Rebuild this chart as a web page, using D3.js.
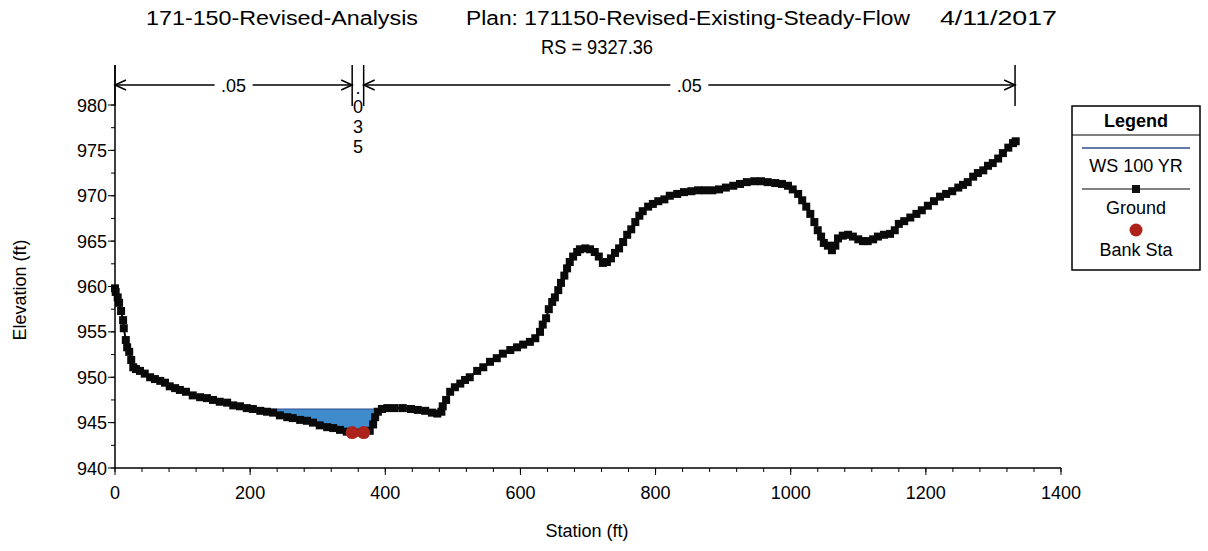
<!DOCTYPE html>
<html>
<head>
<meta charset="utf-8">
<script src="https://cdn.jsdelivr.net/npm/d3@7"></script>
<style>
  body { margin: 0; background: #fff; }
  svg { font-family: "Liberation Sans", Arial, sans-serif; }
</style>
</head>
<body>
<svg id="chart" width="1208" height="551"></svg>
<script>
// ground profile (station ft, elevation ft)
const groundSta = [0, 1, 4, 6, 9, 12, 13, 16, 18, 21, 24, 27, 31, 37, 44, 52, 59, 67, 74, 81, 89, 96, 105, 115, 126, 136, 145, 155, 166, 175, 185, 195, 204, 215, 225, 234, 244, 255, 263, 274, 284, 293, 303, 314, 323, 333, 343, 352, 363, 370, 377, 382, 385, 389, 395, 403, 414, 426, 438, 448, 459, 469, 477, 483, 485, 490, 496, 503, 511, 518, 525, 536, 545, 555, 565, 574, 585, 595, 604, 614, 622, 629, 633, 638, 642, 647, 651, 656, 660, 665, 669, 673, 678, 684, 688, 696, 703, 710, 716, 722, 728, 734, 740, 746, 752, 758, 764, 770, 776, 781, 789, 796, 804, 813, 821, 832, 842, 853, 863, 873, 884, 894, 904, 915, 925, 935, 946, 956, 966, 977, 987, 996, 1003, 1011, 1017, 1023, 1029, 1035, 1040, 1045, 1049, 1055, 1061, 1066, 1070, 1077, 1085, 1092, 1100, 1107, 1114, 1122, 1129, 1138, 1147, 1154, 1160, 1168, 1177, 1186, 1194, 1203, 1212, 1221, 1230, 1239, 1248, 1255, 1262, 1270, 1277, 1285, 1292, 1299, 1307, 1314, 1322, 1329, 1333];
const groundElev = [959.8, 959.4, 958.8, 958.2, 957.3, 956.3, 955.4, 954.1, 953.3, 952.8, 951.9, 951.1, 950.9, 950.7, 950.4, 950.0, 949.8, 949.6, 949.4, 949.0, 948.8, 948.6, 948.4, 948.0, 947.8, 947.7, 947.5, 947.3, 947.2, 946.9, 946.8, 946.6, 946.5, 946.3, 946.2, 946.1, 945.8, 945.6, 945.5, 945.3, 945.2, 945.0, 944.7, 944.5, 944.4, 944.2, 944.0, 943.9, 943.9, 943.9, 944.1, 944.8, 945.6, 946.2, 946.5, 946.6, 946.6, 946.6, 946.5, 946.4, 946.3, 946.1, 946.0, 946.2, 946.8, 947.5, 948.4, 948.9, 949.3, 949.7, 950.0, 950.7, 951.1, 951.7, 952.1, 952.6, 953.0, 953.3, 953.6, 953.9, 954.3, 955.0, 955.8, 956.5, 957.5, 958.3, 958.8, 959.6, 960.4, 961.2, 962.0, 962.7, 963.3, 963.8, 964.1, 964.2, 964.1, 963.8, 963.3, 962.6, 962.7, 963.1, 963.7, 964.2, 964.9, 965.7, 966.3, 967.1, 967.8, 968.3, 968.8, 969.1, 969.4, 969.6, 970.0, 970.2, 970.4, 970.5, 970.6, 970.6, 970.6, 970.7, 970.9, 971.1, 971.3, 971.5, 971.6, 971.6, 971.5, 971.4, 971.3, 971.1, 970.7, 970.2, 969.5, 968.8, 968.0, 967.1, 966.2, 965.5, 964.8, 964.5, 964.0, 964.5, 965.3, 965.6, 965.7, 965.5, 965.2, 965.0, 965.0, 965.2, 965.5, 965.7, 965.8, 966.2, 966.9, 967.2, 967.6, 968.0, 968.4, 968.9, 969.4, 969.9, 970.2, 970.5, 970.9, 971.2, 971.5, 972.1, 972.5, 972.8, 973.3, 973.6, 974.1, 974.7, 975.3, 975.8, 976.0];

const bankSta = [351, 368];
const bankElev = [943.9, 943.9];

const wsElev = 946.5; // WS 100 YR

// Manning's n regions across the top
const nFrom = [0, 351, 368];
const nTo = [351, 368, 1332];
const nLabel = [".05", ".035", ".05"];

const xTicks = [0, 200, 400, 600, 800, 1000, 1200, 1400];
const yTicks = [940, 945, 950, 955, 960, 965, 970, 975, 980];

const titleLeft = "171-150-Revised-Analysis";
const titlePlan = "Plan: 171150-Revised-Existing-Steady-Flow";
const titleDate = "4/11/2017";
const subTitle = "RS = 9327.36";

const svg = d3.select('#chart');

const x = d3.scaleLinear().domain([0, 1400]).range([115, 1061]);
const y = d3.scaleLinear().domain([940, 980]).range([468, 105]);

const ground = groundSta.map((s, i) => ({ s, e: groundElev[i] }));

// titles, narrow font in the original so squeeze to its widths
function title(txt, x0, x1, yy) {
  svg.append('text').attr('x', x0).attr('y', yy)
    .attr('font-size', 20).attr('textLength', x1 - x0)
    .attr('lengthAdjust', 'spacingAndGlyphs').text(txt);
}
title(titleLeft, 146, 418, 25);
title(titlePlan, 466, 910, 25);
title(titleDate, 940, 1057, 25);
title(subTitle, 541, 653, 54);

// water surface fill between crossings around the channel low point
let lowIdx = d3.minIndex(ground, d => d.e);
let li = lowIdx, ri = lowIdx;
while (li > 0 && ground[li - 1].e < wsElev) li--;
while (ri < ground.length - 1 && ground[ri + 1].e < wsElev) ri++;
function cross(a, b) {
  const t = (wsElev - a.e) / (b.e - a.e);
  return { s: a.s + t * (b.s - a.s), e: wsElev };
}
const wetPts = [cross(ground[li - 1], ground[li])]
  .concat(ground.slice(li, ri + 1))
  .concat([cross(ground[ri], ground[ri + 1])]);

svg.append('path')
  .datum(wetPts)
  .attr('fill', '#3f8bcb')
  .attr('d', d3.area().x(d => x(d.s)).y0(y(wsElev)).y1(d => y(d.e)));
svg.append('line')
  .attr('x1', x(wetPts[0].s)).attr('x2', x(wetPts[wetPts.length - 1].s))
  .attr('y1', y(wsElev)).attr('y2', y(wsElev))
  .attr('stroke', '#2f4d8c').attr('stroke-width', 1);

// ground line + markers
svg.append('path')
  .datum(ground)
  .attr('fill', 'none').attr('stroke', '#000').attr('stroke-width', 2)
  .attr('d', d3.line().x(d => x(d.s)).y(d => y(d.e)));
svg.append('g').selectAll('rect').data(ground).join('rect')
  .attr('x', d => x(d.s) - 4).attr('y', d => y(d.e) - 4)
  .attr('width', 8).attr('height', 8).attr('fill', '#0a0a0a');

// bank stations
svg.append('g').selectAll('circle').data(bankSta).join('circle')
  .attr('cx', d => x(d)).attr('cy', (d, i) => y(bankElev[i]))
  .attr('r', 6.5).attr('fill', '#ad231b');

// axes
const xAxis = svg.append('g').attr('transform', 'translate(0,468)');
xAxis.append('line').attr('x1', x(0)).attr('x2', x(1400)).attr('stroke', '#000').attr('stroke-width', 1.5);
xAxis.selectAll('.minor').data(d3.range(0, 1401, 40)).join('line')
  .attr('x1', d => x(d)).attr('x2', d => x(d)).attr('y1', 0).attr('y2', 4)
  .attr('stroke', '#000');
xAxis.selectAll('.major').data(xTicks).join('line')
  .attr('x1', d => x(d)).attr('x2', d => x(d)).attr('y1', 0).attr('y2', 7)
  .attr('stroke', '#000');
xAxis.selectAll('text').data(xTicks).join('text')
  .attr('x', d => x(d)).attr('y', 31).attr('text-anchor', 'middle')
  .attr('font-size', 18).text(d => d);

const yAxis = svg.append('g').attr('transform', 'translate(115,0)');
yAxis.append('line').attr('y1', 65).attr('y2', 468).attr('stroke', '#000').attr('stroke-width', 1.5);
yAxis.selectAll('.minor').data(d3.range(940, 982.5, 2.5)).join('line')
  .attr('x1', -4).attr('x2', 0).attr('y1', d => y(d)).attr('y2', d => y(d))
  .attr('stroke', '#000');
yAxis.selectAll('.major').data(yTicks).join('line')
  .attr('x1', -7).attr('x2', 0).attr('y1', d => y(d)).attr('y2', d => y(d))
  .attr('stroke', '#000');
yAxis.selectAll('text').data(yTicks).join('text')
  .attr('x', -8).attr('y', d => y(d) + 6.5).attr('text-anchor', 'end')
  .attr('font-size', 18).text(d => d);

svg.append('text').attr('x', 587).attr('y', 537).attr('text-anchor', 'middle')
  .attr('font-size', 18).text('Station (ft)');
svg.append('text').attr('transform', 'translate(26,290) rotate(-90)')
  .attr('text-anchor', 'middle').attr('font-size', 18).text('Elevation (ft)');

// Manning's n annotations
const nG = svg.append('g');
const arrowY = 85;
const edges = [nFrom[0]].concat(nTo);
nG.selectAll('line.edge').data(edges).join('line')
  .attr('x1', d => x(d)).attr('x2', d => x(d)).attr('y1', 65).attr('y2', 106)
  .attr('stroke', '#000').attr('stroke-width', 1.5);
function arrowHead(px, dir) {
  // dir = 1 pointing right, -1 pointing left
  return `M${px - dir * 11},${arrowY - 5}L${px},${arrowY}L${px - dir * 11},${arrowY + 5}`;
}
nLabel.forEach((lab, i) => {
  const x0 = x(nFrom[i]), x1 = x(nTo[i]);
  const cx = (x0 + x1) / 2;
  if (x1 - x0 > 40) {
    nG.append('text').attr('x', cx).attr('y', arrowY + 7).attr('text-anchor', 'middle')
      .attr('font-size', 18).text(lab);
    nG.append('line').attr('x1', x0).attr('x2', cx - 19).attr('y1', arrowY).attr('y2', arrowY)
      .attr('stroke', '#000').attr('stroke-width', 1.5);
    nG.append('line').attr('x1', cx + 19).attr('x2', x1).attr('y1', arrowY).attr('y2', arrowY)
      .attr('stroke', '#000').attr('stroke-width', 1.5);
    nG.append('path').attr('d', arrowHead(x0, -1)).attr('fill', 'none').attr('stroke', '#000').attr('stroke-width', 1.5);
    nG.append('path').attr('d', arrowHead(x1, 1)).attr('fill', 'none').attr('stroke', '#000').attr('stroke-width', 1.5);
  } else {
    // narrow region: label written one character per line
    const base = [94, 113, 133, 153];
    lab.split('').forEach((ch, k) => {
      nG.append('text').attr('x', cx).attr('y', base[k])
        .attr('text-anchor', 'middle').attr('font-size', 18).text(ch);
    });
  }
});

// legend
const lg = svg.append('g').attr('transform', 'translate(1072,106)');
lg.append('rect').attr('width', 128).attr('height', 164)
  .attr('fill', '#fff').attr('stroke', '#000').attr('stroke-width', 1.5);
lg.append('line').attr('x1', 0).attr('x2', 128).attr('y1', 29).attr('y2', 29).attr('stroke', '#000');
lg.append('text').attr('x', 64).attr('y', 21).attr('text-anchor', 'middle')
  .attr('font-size', 18).attr('font-weight', 'bold').text('Legend');
lg.append('line').attr('x1', 10).attr('x2', 118).attr('y1', 42).attr('y2', 42)
  .attr('stroke', '#2f4d8c').attr('stroke-width', 1.5);
lg.append('text').attr('x', 64).attr('y', 66).attr('text-anchor', 'middle')
  .attr('font-size', 18).text('WS 100 YR');
lg.append('line').attr('x1', 10).attr('x2', 118).attr('y1', 83).attr('y2', 83)
  .attr('stroke', '#000');
lg.append('rect').attr('x', 60).attr('y', 79).attr('width', 8).attr('height', 8).attr('fill', '#111');
lg.append('text').attr('x', 64).attr('y', 108).attr('text-anchor', 'middle')
  .attr('font-size', 18).text('Ground');
lg.append('circle').attr('cx', 64).attr('cy', 124).attr('r', 6.5).attr('fill', '#ad231b');
lg.append('text').attr('x', 64).attr('y', 150).attr('text-anchor', 'middle')
  .attr('font-size', 18).text('Bank Sta');
</script>
</body>
</html>
